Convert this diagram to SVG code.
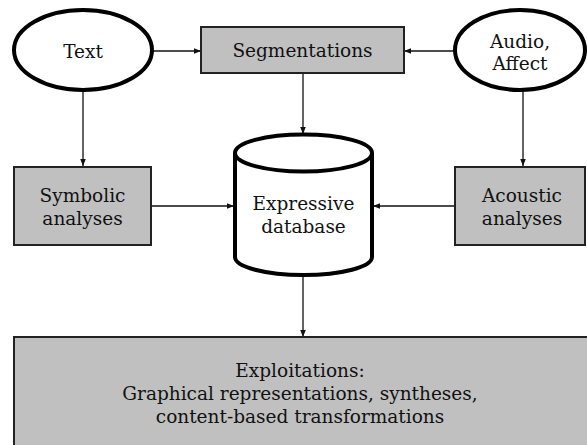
<svg xmlns="http://www.w3.org/2000/svg" width="587" height="445" viewBox="0 0 587 445">
<style>
.t{font-family:"DejaVu Serif","Liberation Serif",serif;font-size:18.5px;fill:#111;text-anchor:middle}
.box{fill:#c0c0c0;stroke:#222;stroke-width:2}
.ell{fill:#fff;stroke:#000;stroke-width:4}
.cyl{fill:#fff;stroke:#000;stroke-width:4}
.con{stroke:#111;stroke-width:1.3;fill:none;marker-end:url(#ah)}
</style>
<defs>
<marker id="ah" viewBox="0 0 10 10" refX="10" refY="5" markerWidth="7" markerHeight="7" markerUnits="userSpaceOnUse" orient="auto">
<path d="M0,1 L10,5 L0,9 Z" fill="#111"/>
</marker>
</defs>
<g id="connectors">
<line class="con" x1="153" y1="51" x2="201" y2="51"/>
<line class="con" x1="454" y1="51" x2="404" y2="51"/>
<line class="con" x1="303" y1="73" x2="303" y2="134"/>
<line class="con" x1="83" y1="91" x2="83" y2="166"/>
<line class="con" x1="523" y1="91" x2="523" y2="166"/>
<line class="con" x1="151" y1="206" x2="234" y2="206"/>
<line class="con" x1="455" y1="206" x2="373" y2="206"/>
<line class="con" x1="303" y1="277" x2="303" y2="337"/>
</g>
<g id="text-node">
<ellipse class="ell" cx="83" cy="50" rx="69" ry="40"/>
<text class="t" x="83" y="58">Text</text>
</g>
<g id="segmentations">
<rect class="box" x="201" y="27" width="203" height="46"/>
<text class="t" x="302.5" y="57">Segmentations</text>
</g>
<g id="audio-affect">
<ellipse class="ell" cx="520" cy="50" rx="65" ry="40"/>
<text class="t" x="520" y="48">Audio,</text>
<text class="t" x="520" y="70">Affect</text>
</g>
<g id="symbolic">
<rect class="box" x="14" y="167" width="137" height="78"/>
<text class="t" x="82.5" y="202">Symbolic</text>
<text class="t" x="82.5" y="225">analyses</text>
</g>
<g id="acoustic">
<rect class="box" x="455" y="167" width="130" height="78"/>
<text class="t" x="522" y="202">Acoustic</text>
<text class="t" x="522" y="225">analyses</text>
</g>
<g id="database">
<path class="cyl" d="M235,153 L235,257 A68.5,18 0 0 0 372,257 L372,153"/>
<ellipse class="cyl" cx="303.5" cy="153" rx="68.5" ry="18.5"/>
<text class="t" x="303.5" y="210">Expressive</text>
<text class="t" x="303.5" y="233">database</text>
</g>
<g id="exploitations">
<rect class="box" x="14" y="337" width="580" height="115"/>
<text class="t" x="300" y="377">Exploitations:</text>
<text class="t" x="300" y="400">Graphical representations, syntheses,</text>
<text class="t" x="300" y="423">content-based transformations</text>
</g>
</svg>
